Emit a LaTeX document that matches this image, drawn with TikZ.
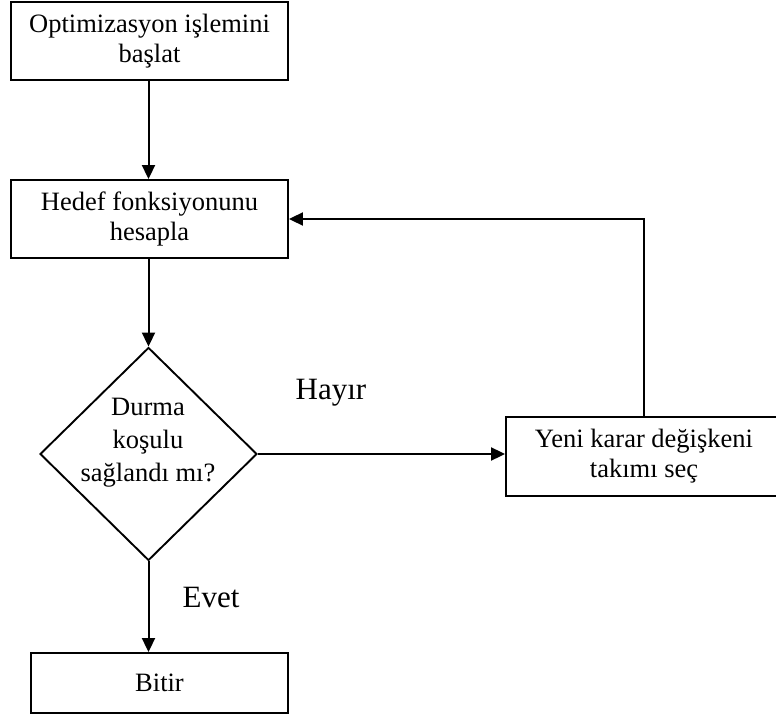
\documentclass[tikz,border=0pt]{standalone}
\usepackage{fontspec}
\setmainfont{Liberation Serif}
\usetikzlibrary{shapes.geometric,arrows.meta}
\begin{document}
\begin{tikzpicture}[x=1pt,y=-1pt,
  box/.style={draw,line width=1.9pt,inner sep=0pt,align=center,font=\fontsize{26.5}{30}\selectfont},
  flow/.style={line width=2pt,-{Triangle[length=14pt,width=13pt]}},
  lbl/.style={font=\fontsize{31}{33}\selectfont,inner sep=0pt}]
\useasboundingbox (0,0) rectangle (776,719);
\node[box,minimum width=277pt,minimum height=78pt] (b1) at (149.5,41) {Optimizasyon işlemini\\başlat};
\node[box,minimum width=277pt,minimum height=78pt] (b2) at (149.5,219) {Hedef fonksiyonunu\\hesapla};
\node[draw,shape=diamond,line width=1.9pt,inner sep=0pt,minimum width=217pt,minimum height=213pt] (dia) at (148.5,454) {};
\node[align=center,inner sep=0pt,font=\fontsize{26.5}{33}\selectfont] (diat) at (148,443) {Durma\\koşulu\\sağlandı mı?};
\node[box,minimum width=276pt,minimum height=79pt] (b3) at (644,456.5) {Yeni karar değişkeni\\takımı seç};
\node[box,minimum width=257pt,minimum height=60pt] (b4) at (159.5,683) {Bitir};
\node[lbl] (hayir) at (331,393) {Hayır};
\node[lbl] (evet) at (211,597) {Evet};
\draw[flow] (b1.south -| dia.north) -- (b2.north -| dia.north);
\draw[flow] (b2.south -| dia.north) -- (dia.north);
\draw[flow] (dia.east) -- (dia.east -| b3.west);
\draw[flow] (b3.north) |- (b2.east);
\draw[flow] (dia.south) -- (dia.south |- b4.north);
\end{tikzpicture}
\end{document}
